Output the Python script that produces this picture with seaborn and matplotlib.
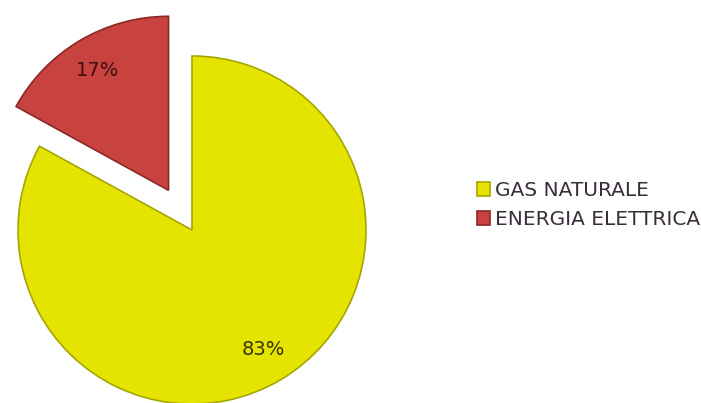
import matplotlib
matplotlib.use("Agg")
import matplotlib.pyplot as plt
import seaborn as sns

# Energy sources and their share of consumption (%)
categories = ["GAS NATURALE", "ENERGIA ELETTRICA"]
shares = [83, 17]
colors = ["#E4E400", "#C8423F"]
edge_colors = ["#A6A600", "#8A2826"]
label_colors = ["#34340A", "#401010"]

sns.set_theme(style="white")
plt.rcParams["font.family"] = ["DejaVu Sans"]

W, H = 701, 403
fig = plt.figure(figsize=(W / 100, H / 100), dpi=100)
ax = fig.add_axes([0, 0, 1, 1])

wedges, texts, autotexts = ax.pie(
    shares,
    colors=colors,
    startangle=90,
    counterclock=False,
    explode=[0, 0.265],
    radius=1.0,
    autopct="%1.0f%%",
    pctdistance=0.8,
    wedgeprops=dict(linewidth=1.2),
    textprops=dict(fontsize=14),
)
for w, ec in zip(wedges, edge_colors):
    w.set_edgecolor(ec)
for t, c in zip(autotexts, label_colors):
    t.set_color(c)

# Pixel-aligned data limits: pie centre at (192, 230) px, radius 174 px
cx, cy, r = 192, 230, 174
ax.set_xlim((0 - cx) / r, (W - cx) / r)
ax.set_ylim((cy - H) / r, cy / r)
ax.set_aspect("auto")
ax.axis("off")

leg = ax.legend(
    wedges,
    categories,
    loc="center left",
    bbox_to_anchor=(477 / W, 1 - 205 / H),
    frameon=False,
    handlelength=0.65,
    handleheight=0.65,
    handletextpad=0.25,
    labelspacing=0.49,
    fontsize=14.5,
    borderaxespad=0,
    borderpad=0,
)
for t in leg.get_texts():
    t.set_color("#3B2E3B")

fig.savefig("out.png", dpi=100)
